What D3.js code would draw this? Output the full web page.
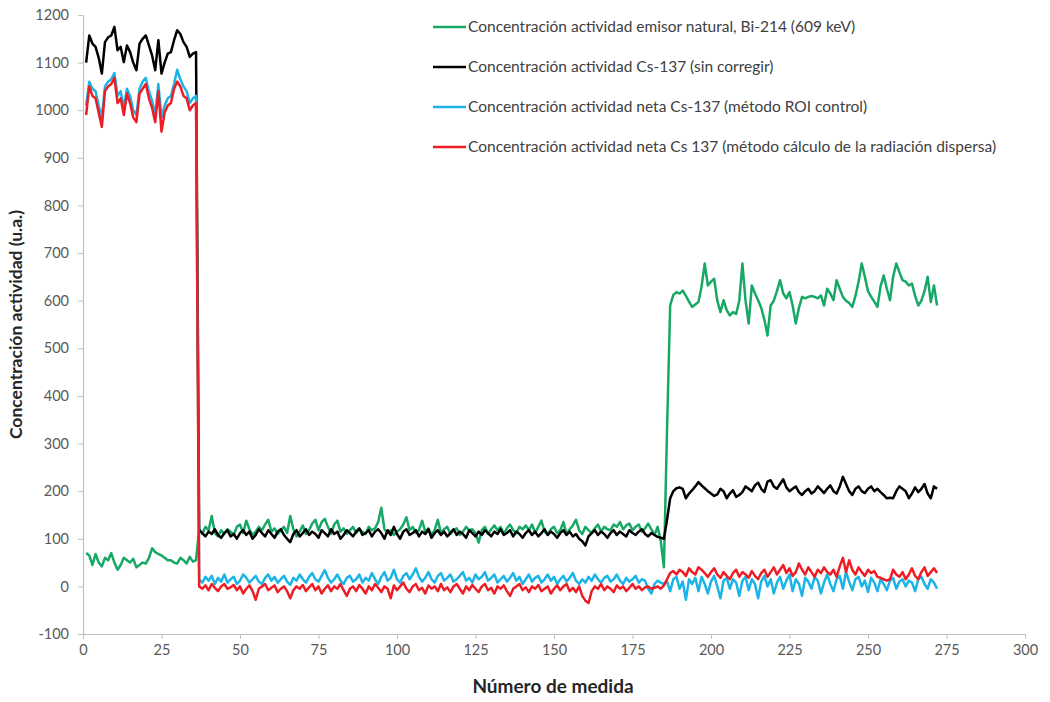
<!DOCTYPE html>
<html><head><meta charset="utf-8">
<script src="https://cdn.jsdelivr.net/npm/d3@7"></script>
<style>html,body{margin:0;padding:0;background:#fff;}svg{display:block;font-family:Lato,"Open Sans",sans-serif;}</style>
</head><body>
<svg id="chart" width="1050" height="702"></svg>
<script>
// ---- DATA (x = 1 .. 272) ----
const seriesNames = [
  "Concentración actividad emisor natural, Bi-214 (609 keV)",
  "Concentración actividad Cs-137 (sin corregir)",
  "Concentración actividad neta Cs-137 (método ROI control)",
  "Concentración actividad neta Cs 137 (método cálculo de la radiación dispersa)"
];
const xTicks = [0,25,50,75,100,125,150,175,200,225,250,275,300];
const yTicks = [-100,0,100,200,300,400,500,600,700,800,900,1000,1100,1200];

const greenBi214 = [
70,65,45,68,50,42,60,55,70,50,35,45,60,55,50,58,40,45,50,48,60,80,72,68,65,60,55,55,50,48,60,55,48,62,52,55,
120,110,125,118,148,112,105,118,110,120,
115,108,125,130,112,138,120,108,115,125,
118,130,140,115,122,110,118,125,112,148,
120,105,115,128,110,118,132,140,118,135,
142,125,110,130,138,115,122,110,118,125,
112,120,115,110,125,118,122,135,165,120,
112,118,108,115,120,130,145,118,125,112,
118,138,115,122,108,118,140,112,120,125,
110,118,122,108,115,125,118,120,112,92,
118,125,110,120,128,118,125,110,122,130,
118,112,125,120,128,118,130,112,125,138,
115,108,120,125,112,118,135,110,120,128,
140,118,110,125,118,112,122,130,115,125,
120,118,130,125,135,120,128,132,118,125,
130,115,122,132,120,108,125,95,40,
330,590,612,618,615,621,610,598,587,592,
597,630,678,632,640,646,600,576,601,580,
569,576,572,600,678,600,552,632,615,601,
585,560,527,590,600,620,643,615,605,618,
590,552,585,608,605,608,610,608,605,611,
590,625,615,601,643,625,608,600,595,587,
610,640,678,650,620,608,598,587,630,653,
625,601,650,678,660,643,640,632,636,610,
590,600,620,650,597,632,590
];
const blackCs137 = [
1100,1157,1140,1133,1110,1077,1143,1153,1157,1175,1126,1133,1101,1136,1122,1100,1084,1140,1150,1157,1136,1115,1084,1147,1077,1100,1119,1122,1147,1168,1160,1143,1133,1112,1119,1122,
118,112,105,115,110,120,108,102,112,118,
105,110,100,112,118,108,115,100,108,120,
112,105,118,110,102,115,120,108,100,93,
110,118,105,112,120,108,115,110,102,118,
112,105,120,110,115,100,108,118,112,105,
115,122,108,112,118,105,115,120,112,100,
118,108,125,110,100,115,120,108,112,118,
105,115,110,120,102,112,118,108,115,105,
112,120,108,115,110,102,118,112,105,115,
108,118,112,105,115,110,120,108,112,118,
105,115,110,102,112,118,108,115,105,112,
120,108,115,110,102,112,118,108,115,105,
110,100,95,86,105,112,118,108,115,110,
102,112,118,108,115,110,105,118,112,108,
115,120,110,105,112,108,104,102,100,
140,185,200,206,208,205,185,195,202,210,
219,212,206,200,195,190,193,205,200,185,
195,202,188,192,198,210,205,200,212,218,
205,198,220,223,210,205,215,225,208,200,
205,210,198,192,200,205,195,200,210,203,
196,205,212,200,195,210,230,215,200,192,
205,210,200,196,205,210,200,205,198,192,
185,186,185,200,210,205,200,185,195,208,
198,205,215,195,185,210,205
];
const cyanRoi = [
1010,1060,1045,1040,1010,985,1050,1060,1065,1078,1030,1040,1005,1045,1030,1000,990,1045,1060,1068,1040,1020,990,1055,985,1010,1025,1030,1055,1085,1065,1050,1040,1015,1025,1030,
15,8,20,12,22,5,18,10,25,8,
15,20,5,12,25,18,8,15,22,10,
5,18,25,12,20,8,15,22,10,3,
18,12,25,15,8,20,28,15,10,22,
34,18,8,15,25,12,5,18,22,10,
15,25,8,18,12,28,15,5,20,30,
12,18,35,15,8,22,28,15,25,38,
20,10,18,30,15,8,22,28,12,18,
25,10,15,22,30,12,18,8,25,15,
20,30,12,18,25,8,15,22,10,18,
28,12,20,5,15,25,10,18,22,8,
15,25,12,20,5,15,22,10,18,28,
12,5,15,8,20,12,25,15,8,18,
22,10,15,25,12,5,18,10,15,22,
8,15,12,-5,-15,5,12,8,5,
10,-10,15,20,-5,10,-28,15,5,18,
-10,20,5,-15,10,22,0,-25,12,18,
-5,15,8,-20,12,20,-8,15,5,-25,
10,22,0,15,-15,8,20,-5,12,25,
-10,15,5,-20,18,10,-5,20,12,-15,
8,25,5,-10,15,22,-5,30,10,-8,
15,20,0,12,-12,18,8,-10,15,5,
-8,12,18,-5,10,15,0,12,8,-10,
15,20,5,-5,15,8,-5
];
const redDispersa = [
990,1050,1030,1025,995,965,1040,1050,1055,1068,1015,1025,990,1035,1015,985,975,1035,1045,1055,1025,1005,975,1040,955,995,1010,1015,1045,1060,1050,1030,1025,1000,1010,1015,
0,-5,2,-8,5,-3,-10,0,5,-5,
-2,3,-8,0,-15,-5,2,-10,-28,-5,
0,5,-8,-3,2,-12,-5,0,-10,-25,
-8,0,-5,3,-10,-2,5,-8,0,-15,
-5,2,-10,0,-5,5,-8,-20,-5,0,
-10,3,-5,-15,0,-8,5,-3,-12,0,
-5,-25,2,-8,0,8,-5,-12,0,5,
-8,-3,-15,2,-5,0,-10,5,-8,-2,
-12,0,5,-5,-15,0,-8,3,-5,-12,
0,5,-8,-3,-15,0,-5,2,-10,-20,
-5,0,5,-8,-2,-12,0,-5,3,-10,
-5,0,-15,-5,2,-8,0,5,-10,-3,
-12,0,-20,-30,-35,-10,0,-5,5,-8,
0,-5,-12,2,-5,0,-10,-3,5,-5,
0,-8,-2,0,-5,-3,0,-5,2,
15,28,32,25,35,30,22,38,30,25,
40,35,28,20,30,38,25,18,30,22,
15,28,35,20,30,25,18,32,22,15,
28,35,20,30,40,25,35,45,28,38,
22,30,48,35,25,40,30,20,35,28,
40,30,25,35,20,42,60,30,55,35,
25,40,30,22,35,28,32,20,18,15,
12,15,35,25,20,30,15,25,38,22,
15,30,40,22,30,38,28
];
const seriesColors = ["#17a866", "#000000", "#1cb4e6", "#ee1c24"];

// ---- CHART ----
const svg = d3.select("#chart");
const x = d3.scaleLinear().domain([0, 300]).range([83, 1025]);
const y = d3.scaleLinear().domain([-100, 1200]).range([634, 15]);
const axisColor = "#bfbfbf";
const labelColor = "#595959";
const fmt = d => String(d);

// axes
const xAxis = svg.append("g").attr("transform", `translate(0,${y(-100)})`)
  .call(d3.axisBottom(x).tickValues(xTicks).tickFormat(fmt).tickSize(5).tickSizeOuter(0).tickPadding(6));
const yAxis = svg.append("g").attr("transform", `translate(${x(0)},0)`)
  .call(d3.axisLeft(y).tickValues(yTicks).tickFormat(fmt).tickSize(5).tickSizeOuter(0).tickPadding(9));
[xAxis, yAxis].forEach(g => {
  g.select(".domain").attr("stroke", axisColor).attr("stroke-width", 1.2);
  g.selectAll(".tick line").attr("stroke", axisColor);
  g.selectAll(".tick text").attr("fill", labelColor).style("font-size", "14.5px").style("font-family", "Lato, sans-serif");
});

// lines
const allSeries = [greenBi214, blackCs137, cyanRoi, redDispersa];
const line = d3.line().x((d, i) => x(i + 1)).y(d => y(d));
[0, 1, 2, 3].forEach(k => {
  svg.append("path").datum(allSeries[k])
    .attr("fill", "none").attr("stroke", seriesColors[k])
    .attr("stroke-width", 2.5).attr("stroke-linejoin", "round")
    .attr("d", line);
});

// legend
const legend = svg.append("g");
seriesNames.forEach((name, k) => {
  const ly = 27 + k * 40;
  legend.append("line").attr("x1", 433).attr("x2", 466).attr("y1", ly).attr("y2", ly)
    .attr("stroke", seriesColors[k]).attr("stroke-width", 2.5);
  legend.append("text").attr("x", 468).attr("y", ly).attr("dy", "0.35em")
    .attr("fill", "#404040").style("font-size", "15.5px").text(name);
});

// axis titles
svg.append("text").attr("transform", `translate(22,${(y(-100)+y(1200))/2}) rotate(-90)`)
  .attr("text-anchor", "middle").attr("font-weight", "bold").attr("fill", "#262626")
  .style("font-size", "17.5px").text("Concentración actividad (u.a.)");
svg.append("text").attr("x", 553).attr("y", 693)
  .attr("text-anchor", "middle").attr("font-weight", "bold").attr("fill", "#262626")
  .style("font-size", "19px").text("Número de medida");
</script>
</body></html>
